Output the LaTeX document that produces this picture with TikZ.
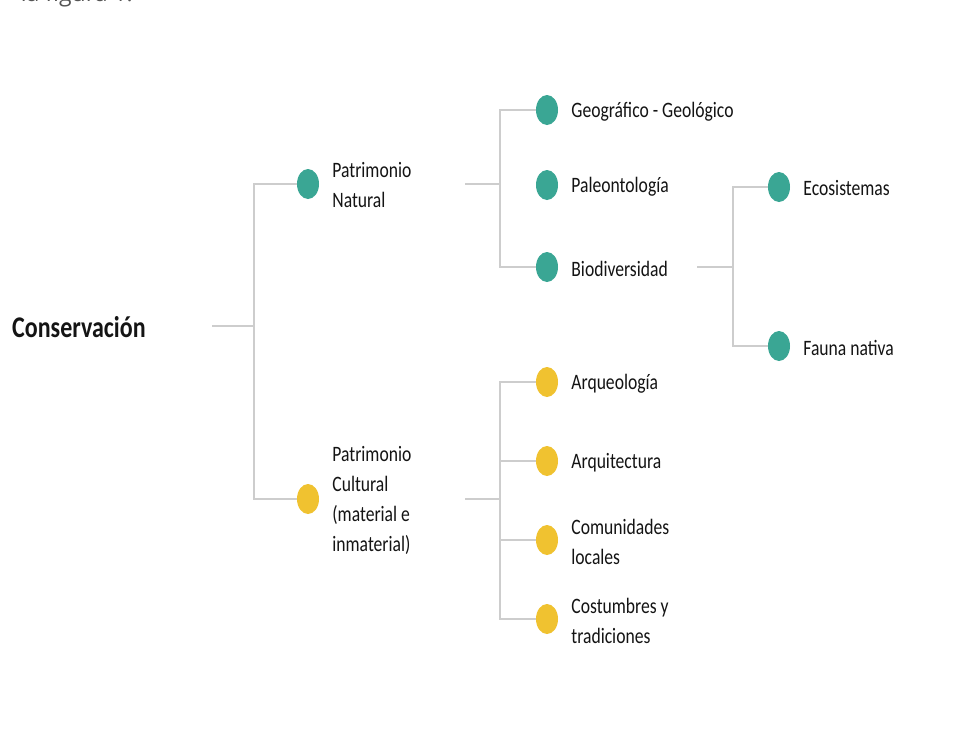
\documentclass[tikz,border=0pt]{standalone}
\usepackage{fontspec}
\setmainfont{Carlito}
\newfontfamily\lblfont[FakeStretch=0.8]{Carlito}
\newfontfamily\bodyfont{Open Sans}
\usetikzlibrary{shapes.geometric,positioning}
\definecolor{tealdot}{RGB}{58,166,148}
\definecolor{yellowdot}{RGB}{240,194,48}
\definecolor{linegray}{RGB}{205,205,205}
\definecolor{txt}{RGB}{20,20,20}
\tikzset{
  dotT/.style={ellipse, fill=tealdot, minimum width=22pt, minimum height=30pt, inner sep=0pt},
  dotY/.style={ellipse, fill=yellowdot, minimum width=22pt, minimum height=30pt, inner sep=0pt},
  lbl/.style={right=13pt, anchor=west, inner sep=0pt, align=left, text=txt, yshift=-1.5pt,
              font=\lblfont\fontsize{22}{30}\selectfont},
  conn/.style={draw=linegray, line width=1.6pt}
}
\begin{document}
\begin{tikzpicture}[x=1pt,y=-1pt]
\useasboundingbox (0,0) rectangle (971,729);
\fill[white] (0,0) rectangle (971,729);
\begin{scope}
\clip (0,0) rectangle (971,729);
\node[anchor=base east, inner sep=0pt, text={rgb,255:red,85;green,85;blue,85},
      font=\bodyfont\fontsize{23}{28}\selectfont] (fig) at (133,1) {la figura 1.};
\end{scope}

% root
\node[anchor=west, inner sep=0pt, text=txt, font=\lblfont\fontsize{30}{36}\selectfont\bfseries]
  (cons) at (12,327) {Conservación};
\coordinate (c0) at (212,326);
\coordinate (v1) at (254,326);

% level 1
\node[dotT] (nat) at (308,184) {};
\node[lbl] (natT) at (nat.east) {Patrimonio\\Natural};
\node[dotY] (cul) at (308,499) {};
\node[lbl] (culT) at (cul.east) {Patrimonio\\Cultural\\(material e\\inmaterial)};

% level 2 natural
\coordinate (n0) at (465,184);
\coordinate (n1) at (500,184);
\node[dotT] (geo) at (547,110) {};
\node[lbl] (geoT) at (geo.east) {Geográfico - Geológico};
\node[dotT] (pal) at (547,185) {};
\node[lbl] (palT) at (pal.east) {Paleontología};
\node[dotT] (bio) at (547,267) {};
\node[lbl] (bioT) at (bio.east) {Biodiversidad};

% level 3
\coordinate (b0) at (697,267);
\coordinate (b1) at (733,267);
\node[dotT] (eco) at (779,187) {};
\node[lbl] (ecoT) at (eco.east) {Ecosistemas};
\node[dotT] (fau) at (779,346) {};
\node[lbl] (fauT) at (fau.east) {Fauna nativa};

% level 2 cultural
\coordinate (k0) at (465,499);
\coordinate (k1) at (500,499);
\node[dotY] (arq) at (547,382) {};
\node[lbl] (arqT) at (arq.east) {Arqueología};
\node[dotY] (arqt) at (547,461) {};
\node[lbl] (arqtT) at (arqt.east) {Arquitectura};
\node[dotY] (com) at (547,540) {};
\node[lbl] (comT) at (com.east) {Comunidades\\locales};
\node[dotY] (cos) at (547,619) {};
\node[lbl] (cosT) at (cos.east) {Costumbres y\\tradiciones};

% connectors
\draw[conn] (c0) -- (v1);
\draw[conn] (nat.west) -| (v1) |- (cul.west);
\draw[conn] (n0) -- (n1);
\draw[conn] (geo.west) -| (n1) |- (bio.west);
\draw[conn] (b0) -- (b1);
\draw[conn] (eco.west) -| (b1) |- (fau.west);
\draw[conn] (k0) -- (k1);
\draw[conn] (arq.west) -| (k1) |- (cos.west);
\draw[conn] (arqt.west -| k1) -- (arqt.west);
\draw[conn] (com.west -| k1) -- (com.west);
\end{tikzpicture}
\end{document}
